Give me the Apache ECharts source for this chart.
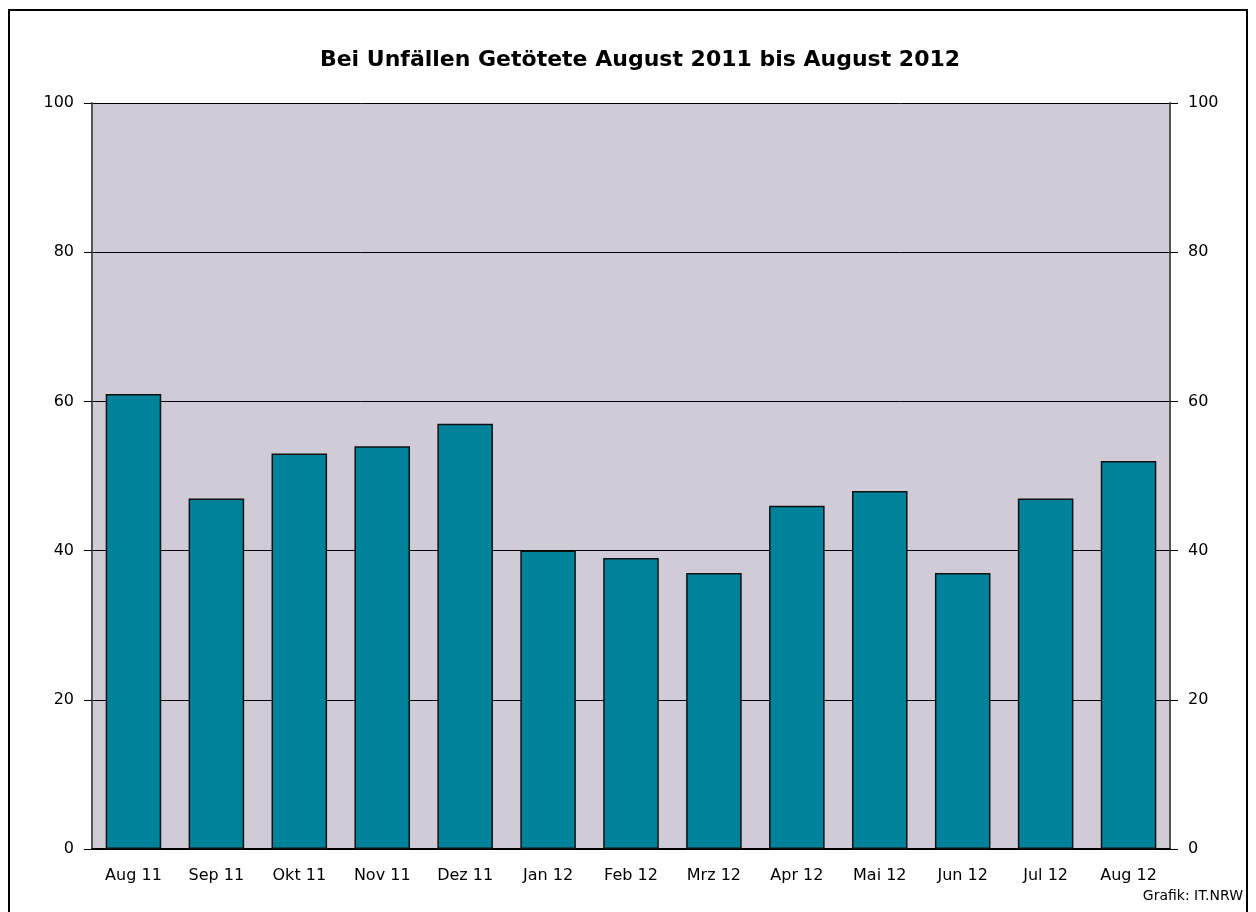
<!DOCTYPE html>
<html>
<head>
<meta charset="utf-8">
<script src="https://cdn.jsdelivr.net/npm/echarts@6/dist/echarts.min.js"></script>
<style>
  html, body { margin: 0; padding: 0; background: #fff; }
  #chart { width: 1256px; height: 912px; }
</style>
</head>
<body>
<div id="chart"></div>
<script>
  // Daten
  var months = ['Aug 11', 'Sep 11', 'Okt 11', 'Nov 11', 'Dez 11', 'Jan 12', 'Feb 12',
                'Mrz 12', 'Apr 12', 'Mai 12', 'Jun 12', 'Jul 12', 'Aug 12'];
  var getoetete = [61, 47, 53, 54, 57, 40, 39, 37, 46, 48, 37, 47, 52];
  var yTicks = [0, 20, 40, 60, 80, 100];

  var font = 'DejaVu Sans, Verdana, sans-serif';
  var chart = echarts.init(document.getElementById('chart'));

  var yAxisBase = {
    type: 'value',
    min: yTicks[0],
    max: yTicks[yTicks.length - 1],
    interval: 20,
    axisLine: { show: true, lineStyle: { color: '#555', width: 2 } },
    axisTick: { show: true, length: 8, lineStyle: { color: '#000', width: 1 } },
    axisLabel: { color: '#000', fontSize: 16, fontFamily: font, margin: 18 }
  };

  var option = {
    backgroundColor: '#fff',
    animation: false,
    title: {
      text: 'Bei Unfällen Getötete August 2011 bis August 2012',
      left: 635,
      textAlign: 'center',
      top: 44,
      textStyle: { fontSize: 22, fontWeight: 'bold', color: '#000', fontFamily: font }
    },
    grid: { left: 92, right: 86, top: 103, bottom: 63, show: true, backgroundColor: '#cfccd7', borderWidth: 0 },
    xAxis: {
      type: 'category',
      data: months,
      axisLine: { show: true, lineStyle: { color: '#000', width: 2 } },
      axisTick: { show: false },
      axisLabel: { color: '#000', fontSize: 16, fontFamily: font, margin: 19 }
    },
    yAxis: [
      Object.assign({}, yAxisBase, {
        position: 'left',
        splitLine: { show: true, lineStyle: { color: '#000', width: 1 } }
      }),
      Object.assign({}, yAxisBase, {
        position: 'right',
        splitLine: { show: false }
      })
    ],
    series: [{
      type: 'bar',
      data: getoetete,
      barWidth: '67%',
      itemStyle: { color: '#00829b', borderColor: '#111', borderWidth: 1.5 }
    }],
    graphic: [
      {
        type: 'rect',
        shape: { x: 9, y: 10, width: 1238, height: 920 },
        style: { fill: 'none', stroke: '#000', lineWidth: 2 },
        silent: true
      },
      {
        type: 'text',
        right: 13,
        top: 889,
        style: { text: 'Grafik: IT.NRW', fontSize: 14, fontFamily: font, fill: '#000' }
      }
    ]
  };

  chart.setOption(option);
</script>
</body>
</html>
